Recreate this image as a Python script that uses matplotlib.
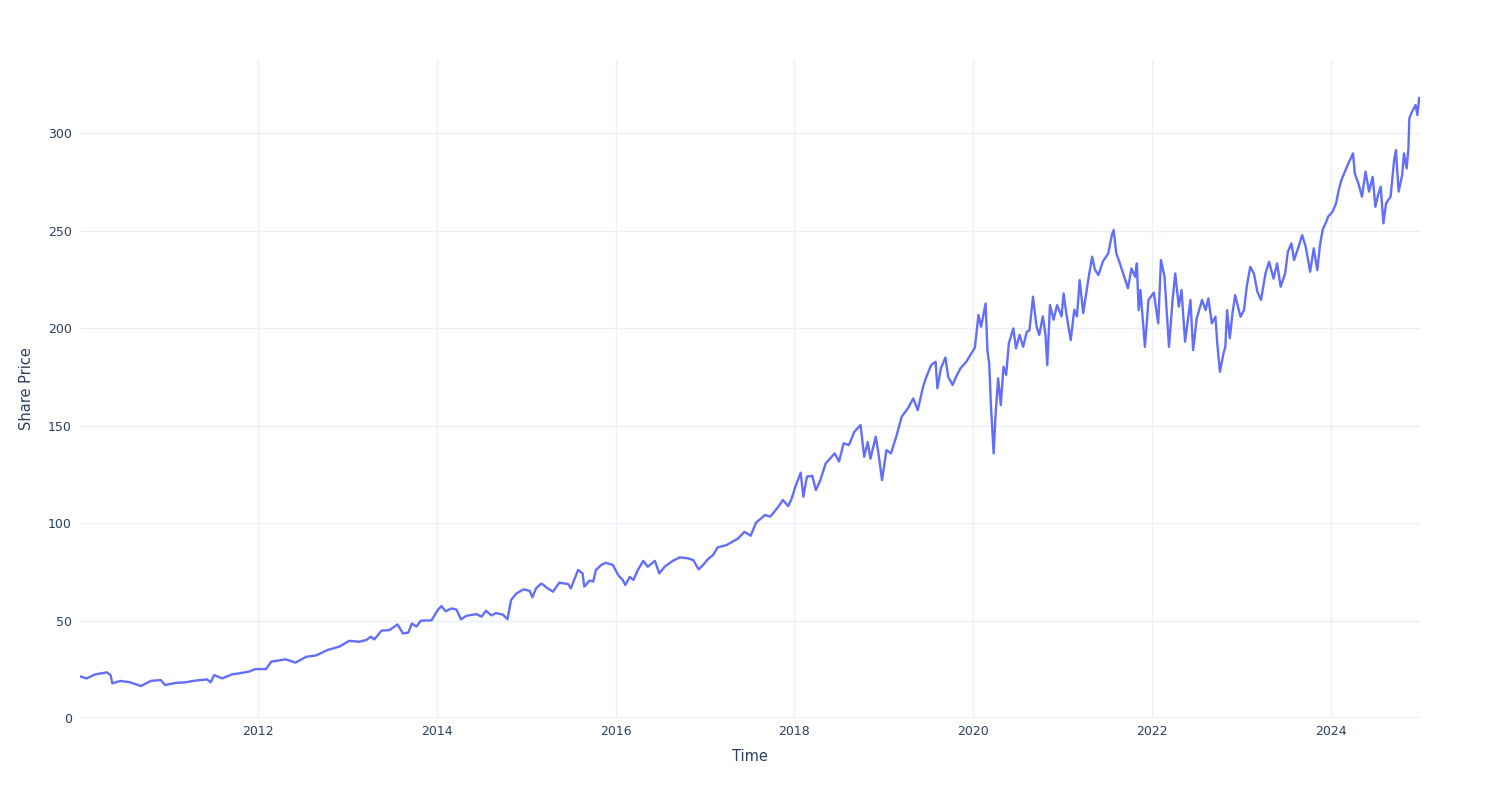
import matplotlib
matplotlib.use("Agg")
import matplotlib.pyplot as plt
import matplotlib.dates as mdates
import pandas as pd

# Decimal-year positions of read-off points and the share price at each
years = [
    2010.02, 2010.08, 2010.18, 2010.31, 2010.35, 2010.37, 2010.46, 2010.56, 2010.69, 2010.80,
    2010.91, 2010.96, 2011.08, 2011.19, 2011.30, 2011.43, 2011.47, 2011.51, 2011.60, 2011.71,
    2011.79, 2011.90, 2011.97, 2012.09, 2012.15, 2012.31, 2012.42, 2012.54, 2012.65, 2012.78,
    2012.91, 2013.02, 2013.13, 2013.21, 2013.26, 2013.30, 2013.38, 2013.47, 2013.56, 2013.62,
    2013.68, 2013.72, 2013.77, 2013.82, 2013.94, 2014.01, 2014.05, 2014.10, 2014.16, 2014.22,
    2014.27, 2014.33, 2014.44, 2014.50, 2014.55, 2014.61, 2014.66, 2014.74, 2014.79, 2014.83,
    2014.89, 2014.97, 2015.04, 2015.07, 2015.11, 2015.17, 2015.24, 2015.30, 2015.37, 2015.47,
    2015.50, 2015.58, 2015.63, 2015.65, 2015.71, 2015.75, 2015.78, 2015.84, 2015.89, 2015.97,
    2016.03, 2016.08, 2016.11, 2016.16, 2016.20, 2016.25, 2016.31, 2016.36, 2016.44, 2016.49,
    2016.55, 2016.64, 2016.72, 2016.81, 2016.87, 2016.93, 2016.98, 2017.03, 2017.09, 2017.14,
    2017.24, 2017.29, 2017.37, 2017.44, 2017.51, 2017.57, 2017.67, 2017.73, 2017.82, 2017.87,
    2017.93, 2017.97, 2018.01, 2018.07, 2018.10, 2018.14, 2018.20, 2018.24, 2018.29, 2018.35,
    2018.45, 2018.50, 2018.55, 2018.61, 2018.67, 2018.74, 2018.78, 2018.82, 2018.85, 2018.91,
    2018.94, 2018.98, 2019.03, 2019.08, 2019.14, 2019.20, 2019.27, 2019.33, 2019.38, 2019.44,
    2019.47, 2019.53, 2019.58, 2019.60, 2019.64, 2019.69, 2019.72, 2019.77, 2019.81, 2019.86,
    2019.92, 2019.98, 2020.02, 2020.06, 2020.09, 2020.14, 2020.16, 2020.18, 2020.20, 2020.23,
    2020.25, 2020.28, 2020.31, 2020.34, 2020.37, 2020.40, 2020.45, 2020.48, 2020.52, 2020.56,
    2020.60, 2020.63, 2020.67, 2020.71, 2020.74, 2020.78, 2020.81, 2020.83, 2020.86, 2020.90,
    2020.94, 2020.99, 2021.01, 2021.04, 2021.09, 2021.13, 2021.16, 2021.19, 2021.23, 2021.28,
    2021.33, 2021.36, 2021.40, 2021.45, 2021.51, 2021.55, 2021.57, 2021.60, 2021.64, 2021.70,
    2021.73, 2021.77, 2021.81, 2021.83, 2021.85, 2021.87, 2021.92, 2021.96, 2022.02, 2022.07,
    2022.10, 2022.14, 2022.19, 2022.23, 2022.26, 2022.30, 2022.33, 2022.37, 2022.43, 2022.46,
    2022.50, 2022.56, 2022.60, 2022.63, 2022.67, 2022.71, 2022.73, 2022.76, 2022.80, 2022.82,
    2022.84, 2022.87, 2022.90, 2022.93, 2022.99, 2023.03, 2023.06, 2023.10, 2023.14, 2023.18,
    2023.22, 2023.27, 2023.31, 2023.36, 2023.40, 2023.44, 2023.49, 2023.52, 2023.56, 2023.59,
    2023.64, 2023.68, 2023.72, 2023.77, 2023.81, 2023.85, 2023.88, 2023.91, 2023.95, 2023.97,
    2024.02, 2024.06, 2024.09, 2024.12, 2024.15, 2024.19, 2024.25, 2024.27, 2024.31, 2024.35,
    2024.39, 2024.43, 2024.47, 2024.50, 2024.53, 2024.56, 2024.59, 2024.62, 2024.67, 2024.71,
    2024.73, 2024.76, 2024.80, 2024.82, 2024.85, 2024.87, 2024.88, 2024.91, 2024.95, 2024.97,
    2024.99,
]
prices = [
    21.2, 20.3, 22.4, 23.4, 22.0, 17.8, 19.0, 18.4, 16.4, 19.0,
    19.5, 16.9, 18.0, 18.3, 19.2, 19.8, 18.3, 22.0, 20.3, 22.4,
    22.9, 23.8, 25.1, 25.1, 28.9, 30.1, 28.4, 31.4, 32.1, 34.9,
    36.6, 39.6, 39.1, 40.0, 41.7, 40.3, 44.8, 45.1, 48.0, 43.4,
    43.8, 48.5, 46.9, 49.9, 50.1, 55.4, 57.4, 54.7, 56.2, 55.6,
    50.6, 52.4, 53.3, 52.0, 55.0, 52.6, 53.8, 53.0, 50.6, 60.5,
    63.9, 66.0, 65.2, 61.9, 66.5, 69.0, 66.5, 64.8, 69.4, 68.7,
    66.5, 75.9, 74.2, 67.4, 70.5, 70.0, 75.9, 78.5, 79.6, 78.5,
    73.3, 70.8, 68.2, 72.4, 70.8, 75.9, 80.6, 77.6, 80.6, 74.2,
    77.6, 80.6, 82.4, 81.9, 81.0, 76.2, 78.5, 81.4, 83.6, 87.5,
    88.7, 90.0, 92.1, 95.5, 93.5, 100.2, 104.1, 103.3, 108.4, 111.8,
    108.7, 112.7, 118.6, 125.8, 113.5, 123.8, 124.2, 116.9, 122.0, 130.6,
    135.7, 131.6, 140.9, 140.0, 146.8, 150.3, 134.0, 141.5, 133.0, 144.3,
    135.7, 122.0, 137.4, 135.7, 144.3, 154.5, 158.8, 163.9, 157.9, 169.9,
    174.2, 181.0, 182.7, 169.1, 179.5, 184.9, 175.1, 170.8, 175.1, 179.5,
    182.5, 187.0, 190.0, 206.7, 200.7, 212.6, 188.7, 181.9, 159.7, 135.7,
    154.5, 174.2, 160.5, 180.2, 176.0, 192.2, 199.8, 189.6, 196.5, 190.4,
    198.0, 198.8, 216.1, 200.7, 196.5, 206.0, 196.5, 181.0, 211.8, 204.3,
    211.8, 206.0, 217.8, 207.7, 193.8, 209.4, 206.0, 224.6, 207.7, 223.0,
    236.6, 230.0, 227.2, 234.2, 238.3, 247.7, 250.3, 238.3, 233.2, 224.6,
    220.4, 230.6, 226.3, 233.2, 209.2, 219.5, 190.4, 214.4, 218.2, 202.4,
    234.9, 226.3, 190.4, 214.4, 228.0, 211.0, 219.5, 193.0, 214.4, 188.7,
    204.9, 214.4, 209.2, 215.2, 202.4, 205.8, 192.2, 177.6, 187.0, 190.4,
    209.2, 194.8, 207.5, 216.9, 205.8, 209.2, 221.2, 231.4, 228.0, 218.6,
    214.4, 228.0, 234.0, 225.4, 233.2, 221.2, 228.0, 239.1, 243.4, 234.9,
    241.7, 247.7, 241.7, 228.9, 240.9, 229.7, 242.6, 250.5, 254.5, 257.1,
    259.6, 263.9, 270.8, 275.9, 279.3, 283.6, 289.6, 279.3, 274.2, 267.4,
    280.2, 270.0, 277.6, 262.2, 268.3, 272.5, 253.7, 264.0, 267.4, 286.2,
    291.3, 270.0, 278.5, 289.6, 281.9, 292.2, 307.6, 311.0, 314.4, 309.3,
    318.0,
]
y_ticks = [0, 50, 100, 150, 200, 250, 300]
x_tick_years = [2012, 2014, 2016, 2018, 2020, 2022, 2024]

dates = [pd.Timestamp(int(y), 1, 1) + pd.Timedelta(days=(y - int(y)) * 365.25) for y in years]

plt.rcParams['font.family'] = ['DejaVu Sans']
fig = plt.figure(figsize=(15, 8), dpi=100)
ax = fig.add_axes([80 / 1500, 1 - 718 / 800, 1340 / 1500, 658 / 800])

grid_c = '#ebf0f8'
text_c = '#2a3f5f'

ax.plot(dates, prices, color='#636efa', lw=1.7, solid_joinstyle='round', zorder=3)

ax.set_xlim(pd.Timestamp(2010, 1, 4), pd.Timestamp(2024, 12, 31))
ax.set_ylim(0, 337.5)
ax.set_yticks(y_ticks)
ax.set_xticks([pd.Timestamp(y, 1, 1) for y in x_tick_years])
ax.xaxis.set_major_formatter(mdates.DateFormatter('%Y'))

ax.grid(True, color=grid_c, lw=1, zorder=0)
ax.axhline(0, color=grid_c, lw=2, zorder=1)
for s in ax.spines.values():
    s.set_visible(False)
ax.tick_params(length=0, labelsize=9, labelcolor=text_c)
ax.tick_params(axis='x', pad=5)
ax.tick_params(axis='y', pad=6)

ax.set_xlabel('Time', fontsize=10.5, color=text_c, labelpad=8)
ax.set_ylabel('Share Price', fontsize=10.5, color=text_c, labelpad=10)

fig.savefig('out.png', dpi=100, facecolor='white')
